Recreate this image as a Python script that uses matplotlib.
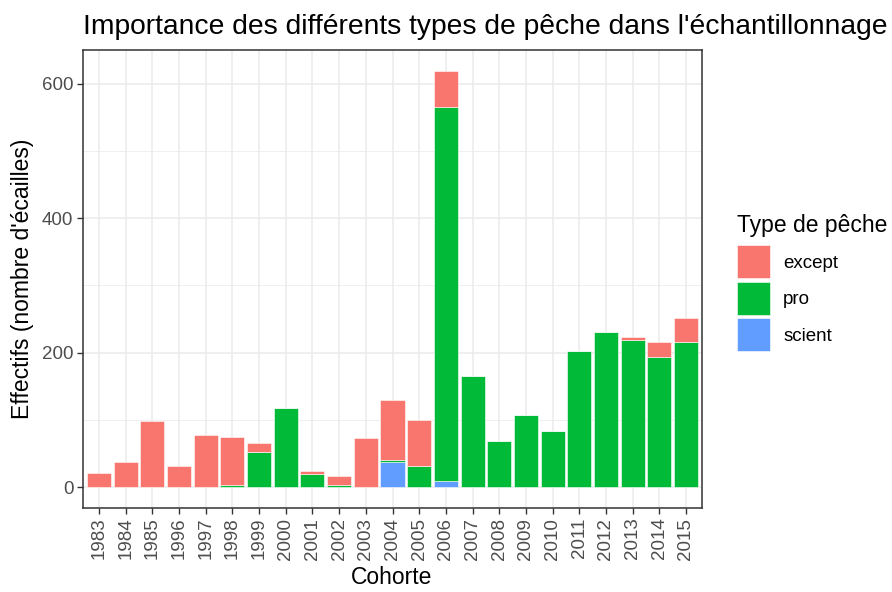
import numpy as np
import matplotlib
matplotlib.use("Agg")
import matplotlib.pyplot as plt
from matplotlib.patches import Patch

plt.rcParams['font.family'] = ['Liberation Sans', 'DejaVu Sans']

# data
cohortes = ['1983', '1984', '1985', '1996', '1997', '1998', '1999', '2000', '2001', '2002',
            '2003', '2004', '2005', '2006', '2007', '2008', '2009', '2010', '2011', '2012',
            '2013', '2014', '2015']
scient = [0, 0, 0, 0, 0, 0, 0, 0, 0, 0, 0, 38, 0, 9, 0, 0, 0, 0, 0, 0, 0, 0, 0]
pro = [0, 0, 0, 0, 0, 3, 52, 117, 20, 3, 0, 3, 31, 556, 166, 68, 108, 83, 203, 230, 219, 193, 216]
excep = [21, 38, 99, 31, 77, 72, 14, 0, 4, 14, 73, 88, 69, 54, 0, 0, 0, 0, 0, 0, 4, 23, 35]

types = ['except', 'pro', 'scient']
couleurs = {'except': '#F8766D', 'pro': '#00BA38', 'scient': '#619CFF'}

W, H = 892, 592
fig = plt.figure(figsize=(W / 100, H / 100), dpi=100)
ax = fig.add_axes([83 / W, 1 - 508 / H, (702 - 83) / W, (508 - 50) / H])

x = np.arange(1, len(cohortes) + 1)
sc = np.array(scient)
pr = np.array(pro)
ex = np.array(excep)
# ggplot stacks the first level on top
ax.bar(x, sc, width=0.9, color=couleurs['scient'], edgecolor='#ffffff', linewidth=0.4, zorder=3)
ax.bar(x, pr, width=0.9, bottom=sc, color=couleurs['pro'], edgecolor='#ffffff', linewidth=0.4, zorder=3)
ax.bar(x, ex, width=0.9, bottom=sc + pr, color=couleurs['except'], edgecolor='#ffffff', linewidth=0.4, zorder=3)

ax.set_xlim(0.4, len(cohortes) + 0.6)
ax.set_ylim(-31, 650)
ax.set_xticks(x)
ax.set_xticklabels(cohortes, rotation=90, fontsize=13.5, color='#4D4D4D')
ax.set_yticks([0, 200, 400, 600])
ax.set_yticks([100, 300, 500], minor=True)
ax.tick_params(axis='y', labelsize=13.5, labelcolor='#4D4D4D')
ax.tick_params(which='major', length=4, width=1, color='#333333', pad=3)
ax.tick_params(which='minor', length=0)
ax.grid(True, which='major', color='#EBEBEB', linewidth=1.1, zorder=0)
ax.grid(True, which='minor', axis='y', color='#EBEBEB', linewidth=0.55, zorder=0)
ax.set_axisbelow(True)
for s in ax.spines.values():
    s.set_color('#333333')
    s.set_linewidth(1.1)

fig.text(83 / W, 1 - 34 / H, "Importance des différents types de pêche dans l'échantillonnage",
         fontsize=20.3, ha='left', va='baseline', color='black')
fig.text(23 / W, 1 - 279 / H, "Effectifs (nombre d'écailles)", rotation=90,
         fontsize=16.5, ha='center', va='center')
fig.text(392 / W, 1 - 578 / H, "Cohorte", fontsize=16.5, ha='center', va='center')

handles = [Patch(facecolor=couleurs[t], edgecolor='#ffffff', linewidth=0.4) for t in types]
leg = fig.legend(handles, types, loc='upper left', bbox_to_anchor=(737 / W, 1 - 214 / H),
                 frameon=False, fontsize=13.5, title='Type de pêche', title_fontsize=16.5,
                 alignment='left', handlelength=1.76, handleheight=2.33, labelspacing=0.19,
                 handletextpad=0.7, borderpad=0, borderaxespad=0)
leg._legend_box.sep = 6

fig.savefig('out.png', dpi=100)
